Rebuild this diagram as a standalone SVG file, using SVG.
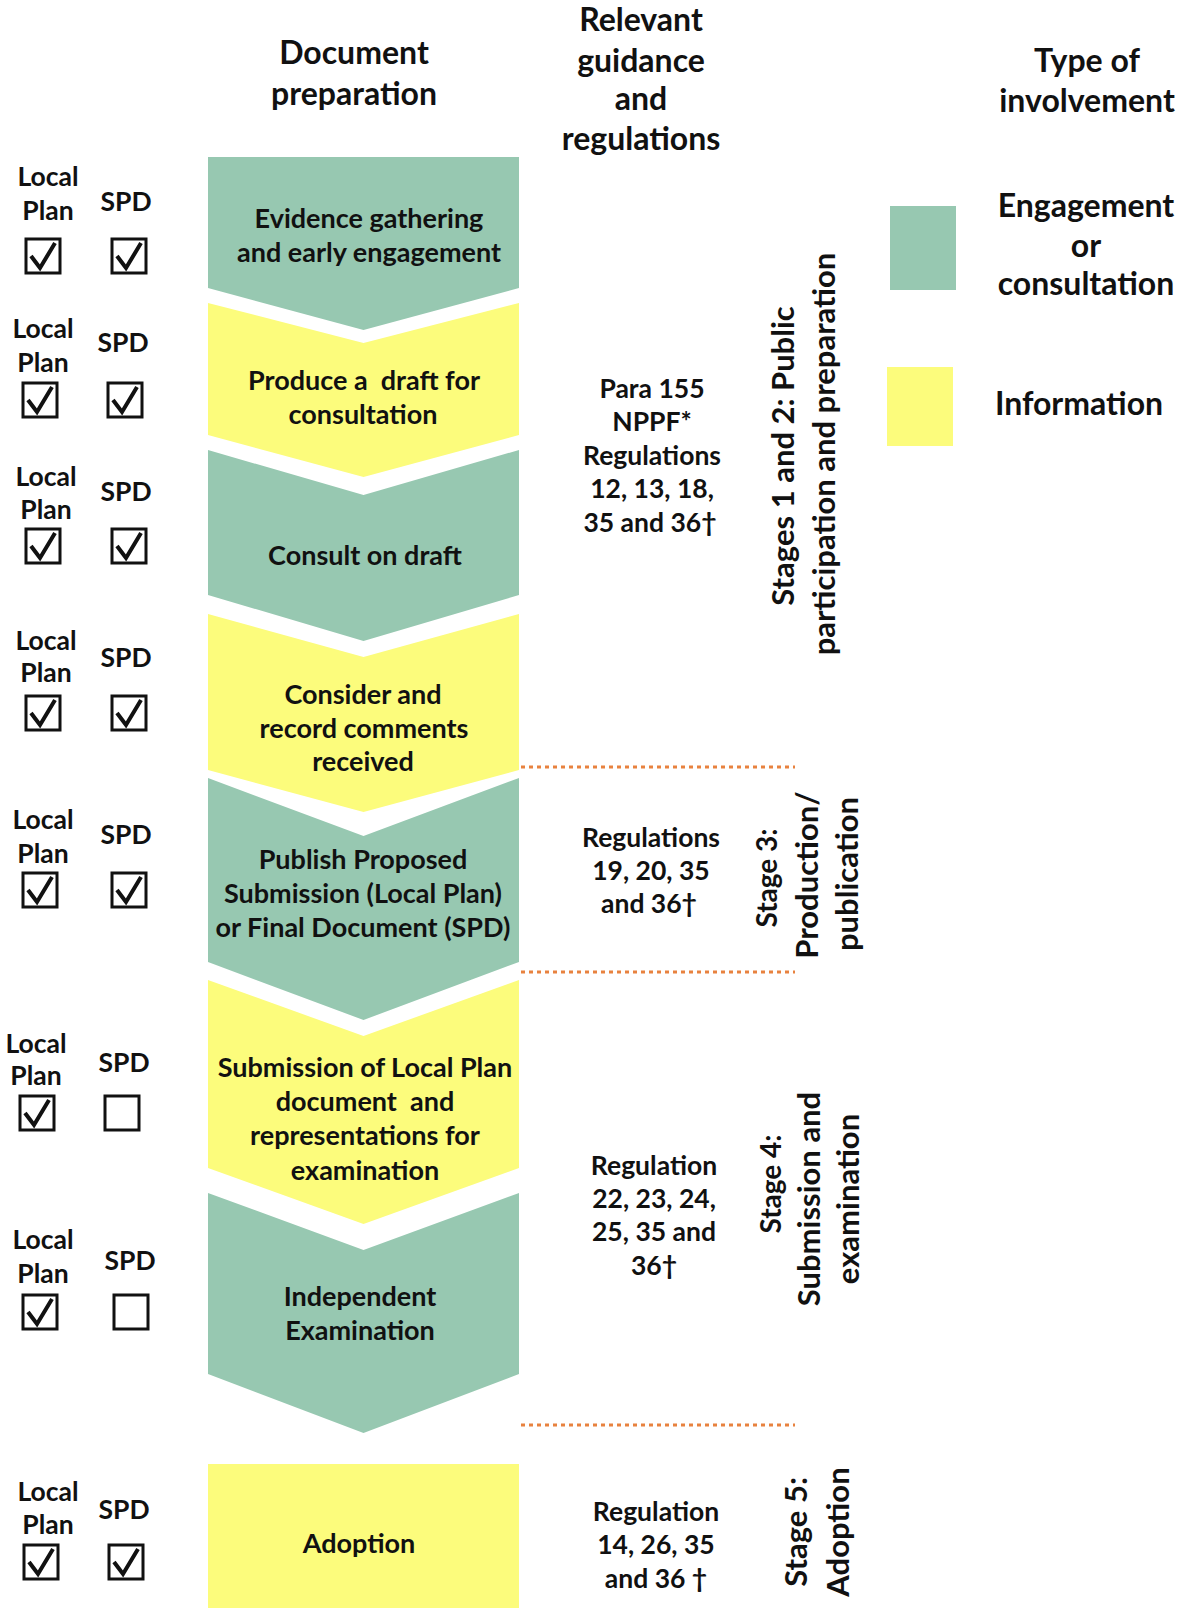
<svg xmlns="http://www.w3.org/2000/svg" width="1185" height="1608" viewBox="0 0 1185 1608">
<defs>
<style>
text{font-family:Lato,"Liberation Sans",sans-serif;font-weight:700;fill:#111;text-anchor:middle}
.hd{font-size:32px}
.t{font-size:27px}
.r{font-size:26.5px}
.c{font-size:26.5px}
.st{font-size:31px}
.st2{font-size:28px}
.g{fill:#97C8B1}
.y{fill:#FCFC7C}
.box{fill:none;stroke:#111;stroke-width:3}
.chk{fill:none;stroke:#111;stroke-width:4;stroke-linejoin:miter}
.sep{stroke:#E8823F;stroke-width:3;stroke-dasharray:4 4}
</style>
<g id="cb">
<rect class="box" x="-17" y="-17" width="34" height="34"/>
<path class="chk" d="M-12,0 L-3,12 L12,-13"/>
</g>
<g id="eb">
<rect class="box" x="-17" y="-17" width="34" height="34"/>
</g>
</defs>
<rect width="1185" height="1608" fill="#fff"/>

<g id="headers">
<text class="hd" x="354" y="64">Document</text>
<text class="hd" x="354" y="105">preparation</text>
<text class="hd" x="641" y="31">Relevant</text>
<text class="hd" x="641" y="72">guidance</text>
<text class="hd" x="641" y="110">and</text>
<text class="hd" x="641" y="150">regulations</text>
<text class="hd" x="1087" y="72">Type of</text>
<text class="hd" x="1087" y="112">involvement</text>
</g>

<g id="legend">
<rect class="g" x="890" y="206" width="66" height="84"/>
<text class="hd" x="1086" y="217">Engagement</text>
<text class="hd" x="1086" y="257">or</text>
<text class="hd" x="1086" y="295">consultation</text>
<rect class="y" x="887" y="367" width="66" height="79"/>
<text class="hd" x="1079" y="415">Information</text>
</g>

<g id="step1">
<polygon class="g" points="208,157 519,157 519,288 363.5,330 208,288"/>
<text class="t" x="369" y="228">Evidence gathering</text>
<text class="t" x="369" y="262">and early engagement</text>
</g>
<g id="step2">
<polygon class="y" points="208,303 363.5,343 519,303 519,435 363.5,477 208,435"/>
<text class="t" x="364" y="390" xml:space="preserve">Produce a  draft for</text>
<text class="t" x="363" y="424">consultation</text>
</g>
<g id="step3">
<polygon class="g" points="208,450 363.5,495 519,450 519,595 363.5,641 208,595"/>
<text class="t" x="365" y="565">Consult on draft</text>
</g>
<g id="step4">
<polygon class="y" points="208,614 363.5,657 519,614 519,770 363.5,812 208,770"/>
<text class="t" x="363" y="704">Consider and</text>
<text class="t" x="364" y="738">record comments</text>
<text class="t" x="363" y="771">received</text>
</g>
<g id="step5">
<polygon class="g" points="208,778 363.5,836 519,778 519,962 363.5,1020 208,962"/>
<text class="t" x="363" y="869">Publish Proposed</text>
<text class="t" x="363" y="903">Submission (Local Plan)</text>
<text class="t" x="363" y="937">or Final Document (SPD)</text>
</g>
<g id="step6">
<polygon class="y" points="208,980 363.5,1036 519,980 519,1168 363.5,1224 208,1168"/>
<text class="t" x="365" y="1077">Submission of Local Plan</text>
<text class="t" x="365" y="1111" xml:space="preserve">document  and</text>
<text class="t" x="365" y="1145">representations for</text>
<text class="t" x="365" y="1180">examination</text>
</g>
<g id="step7">
<polygon class="g" points="208,1193 363.5,1250 519,1193 519,1374 363.5,1433 208,1374"/>
<text class="t" x="360" y="1306">Independent</text>
<text class="t" x="360" y="1340">Examination</text>
</g>
<g id="step8">
<rect class="y" x="208" y="1464" width="311" height="144"/>
<text class="t" x="359" y="1553">Adoption</text>
</g>

<g id="applies">
<g id="row1">
<text class="c" x="48" y="186">Local</text><text class="c" x="48" y="220">Plan</text><text class="c" x="126" y="211">SPD</text>
<use href="#cb" x="43" y="256"/><use href="#cb" x="129" y="256"/>
</g>
<g id="row2">
<text class="c" x="43" y="338">Local</text><text class="c" x="43" y="372">Plan</text><text class="c" x="123" y="352">SPD</text>
<use href="#cb" x="40" y="400"/><use href="#cb" x="125" y="400"/>
</g>
<g id="row3">
<text class="c" x="46" y="486">Local</text><text class="c" x="46" y="519">Plan</text><text class="c" x="126" y="501">SPD</text>
<use href="#cb" x="43" y="546"/><use href="#cb" x="129" y="546"/>
</g>
<g id="row4">
<text class="c" x="46" y="650">Local</text><text class="c" x="46" y="682">Plan</text><text class="c" x="126" y="667">SPD</text>
<use href="#cb" x="43" y="713"/><use href="#cb" x="129" y="713"/>
</g>
<g id="row5">
<text class="c" x="43" y="829">Local</text><text class="c" x="43" y="863">Plan</text><text class="c" x="126" y="844">SPD</text>
<use href="#cb" x="40" y="890"/><use href="#cb" x="129" y="890"/>
</g>
<g id="row6">
<text class="c" x="36" y="1053">Local</text><text class="c" x="36" y="1085">Plan</text><text class="c" x="124" y="1072">SPD</text>
<use href="#cb" x="37" y="1113"/><use href="#eb" x="122" y="1113"/>
</g>
<g id="row7">
<text class="c" x="43" y="1249">Local</text><text class="c" x="43" y="1283">Plan</text><text class="c" x="130" y="1270">SPD</text>
<use href="#cb" x="40" y="1312"/><use href="#eb" x="131" y="1312"/>
</g>
<g id="row8">
<text class="c" x="48" y="1501">Local</text><text class="c" x="48" y="1534">Plan</text><text class="c" x="124" y="1519">SPD</text>
<use href="#cb" x="41" y="1562"/><use href="#cb" x="126" y="1562"/>
</g>
</g>

<g id="regulations">
<text class="r" x="652" y="398">Para 155</text>
<text class="r" x="652" y="431">NPPF*</text>
<text class="r" x="652" y="465">Regulations</text>
<text class="r" x="652" y="498">12, 13, 18,</text>
<text class="r" x="650" y="532">35 and 36†</text>
<text class="r" x="651" y="847">Regulations</text>
<text class="r" x="651" y="880">19, 20, 35</text>
<text class="r" x="649" y="913">and 36†</text>
<text class="r" x="654" y="1175">Regulation</text>
<text class="r" x="654" y="1208">22, 23, 24,</text>
<text class="r" x="654" y="1241">25, 35 and</text>
<text class="r" x="654" y="1275">36†</text>
<text class="r" x="656" y="1521">Regulation</text>
<text class="r" x="656" y="1554">14, 26, 35</text>
<text class="r" x="656" y="1588">and 36 †</text>
</g>

<g id="stages">
<text class="st" transform="translate(794,456) rotate(-90)">Stages 1 and 2: Public</text>
<text class="st" transform="translate(835,454) rotate(-90)">participation and preparation</text>
<text class="st2" transform="translate(777,878) rotate(-90)">Stage 3:</text>
<text class="st" transform="translate(818,875) rotate(-90)">Production/</text>
<text class="st" transform="translate(858,874) rotate(-90)">publication</text>
<text class="st2" transform="translate(781,1184) rotate(-90)">Stage 4:</text>
<text class="st" transform="translate(820,1199) rotate(-90)">Submission and</text>
<text class="st" transform="translate(859,1199) rotate(-90)">examination</text>
<text class="st" transform="translate(807,1532) rotate(-90)">Stage 5:</text>
<text class="st" transform="translate(849,1532) rotate(-90)">Adoption</text>
</g>

<g id="connectors">
<line class="sep" x1="521" y1="767" x2="795" y2="767"/>
<line class="sep" x1="521" y1="972" x2="795" y2="972"/>
<line class="sep" x1="521" y1="1425" x2="795" y2="1425"/>
</g>
</svg>
